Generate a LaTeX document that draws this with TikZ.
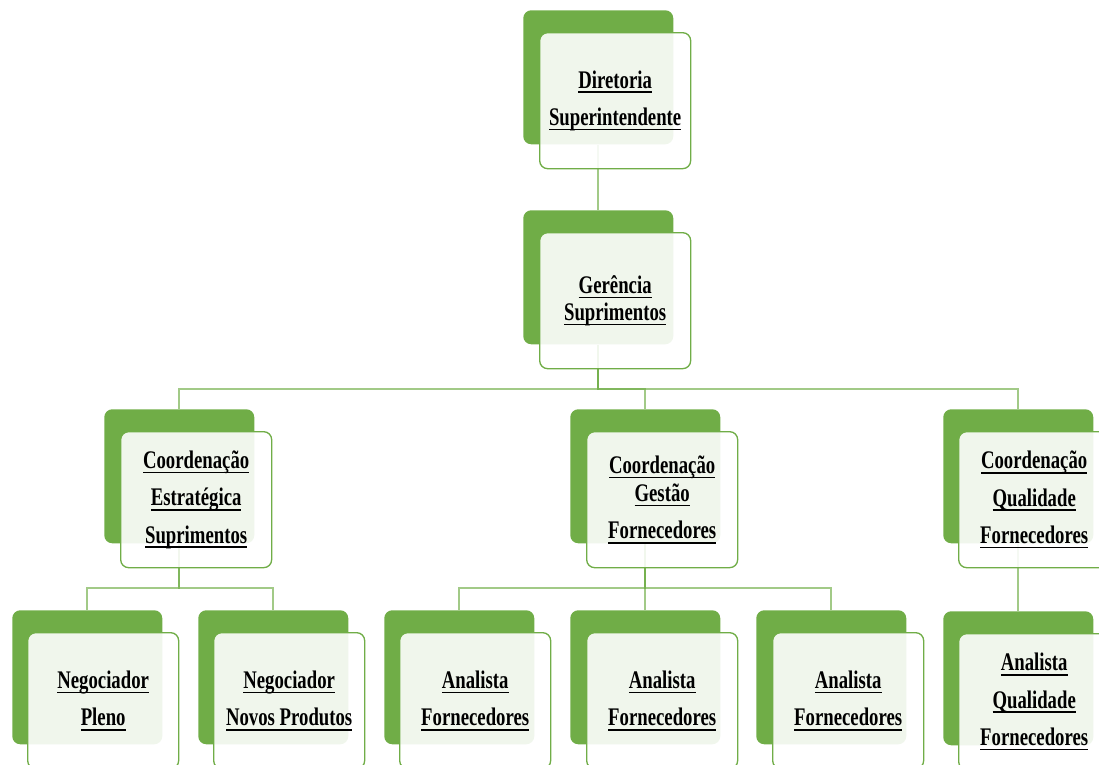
\documentclass[tikz,border=0pt]{standalone}
\usepackage{fontspec}
\newfontfamily\orgfont{Liberation Serif}[FakeStretch=0.74]
\definecolor{leafgreen}{HTML}{70AD47}
\newsavebox\ulinebox
% underlined word with a heavier rule than \underline
\newcommand\ulword[1]{\sbox\ulinebox{#1}\rlap{\rule[-3.6pt]{\wd\ulinebox}{1.2pt}}\usebox\ulinebox}
\begin{document}
\begin{tikzpicture}[x=0.75pt,y=-0.75pt,
  back/.style={fill=leafgreen,rounded corners=6pt,minimum width=112.5pt,
    minimum height=100.5pt,anchor=north west,inner sep=0pt},
  front/.style={draw=leafgreen,line width=1pt,fill=white,fill opacity=0.9,
    text opacity=1,rounded corners=6pt,minimum width=113.25pt,
    minimum height=102pt,anchor=north west,inner sep=0pt,align=center,
    font=\orgfont\bfseries\fontsize{19pt}{28pt}\selectfont},
  link/.style={draw=leafgreen,draw opacity=0.65,line width=1.2pt}]
\useasboundingbox (0,0) rectangle (1099,764);
\clip (0,0) rectangle (1099,764);

% green back plates
\node[back] (dirB) at (523,10) {};
\node[back] (gerB) at (523,210) {};
\node[back] (cesB) at (104,409) {};
\node[back] (cgfB) at (570,409) {};
\node[back] (cqfB) at (943,409) {};
\node[back] (npB)  at (12,610) {};
\node[back] (nnpB) at (198,610) {};
\node[back] (af1B) at (384,610) {};
\node[back] (af2B) at (570,610) {};
\node[back] (af3B) at (756,610) {};
\node[back] (aqfB) at (943,611) {};

% bus levels of the elbow connectors
\coordinate (bus2) at (0,389);
\coordinate (bus3) at (0,588);

\draw[link] (dirB.south) -- (gerB.north);
\foreach \c in {cesB,cgfB,cqfB}
  \draw[link] (gerB.south) -- (gerB.south |- bus2) -| (\c.north);
\foreach \c in {npB,nnpB}
  \draw[link] (cesB.south) -- (cesB.south |- bus3) -| (\c.north);
\foreach \c in {af1B,af2B,af3B}
  \draw[link] (cgfB.south) -- (cgfB.south |- bus3) -| (\c.north);
\draw[link] (cqfB.south) -- (aqfB.north);

% translucent front cards with the titles
\node[front] (dirF) at (539,32) {\ulword{Diretoria}\\\ulword{Superintendente}};
\node[front] (gerF) at (539,232) {\ulword{Gerência}\\[-7.75pt]\ulword{Suprimentos}};
\node[front] (cesF) at (120,431) {\ulword{Coordenação}\\\ulword{Estratégica}\\\ulword{Suprimentos}};
\node[front] (cgfF) at (586,431) {\ulword{Coordenação}\\[-7pt]\ulword{Gestão}\\\ulword{Fornecedores}};
\node[front] (cqfF) at (958,431) {\ulword{Coordenação}\\\ulword{Qualidade}\\\ulword{Fornecedores}};
\node[front] (npF)  at (27,632) {\ulword{Negociador}\\\ulword{Pleno}};
\node[front] (nnpF) at (213,632) {\ulword{Negociador}\\\ulword{Novos Produtos}};
\node[front] (af1F) at (399,632) {\ulword{Analista}\\\ulword{Fornecedores}};
\node[front] (af2F) at (586,632) {\ulword{Analista}\\\ulword{Fornecedores}};
\node[front] (af3F) at (772,632) {\ulword{Analista}\\\ulword{Fornecedores}};
\node[front] (aqfF) at (958,633) {\ulword{Analista}\\\ulword{Qualidade}\\\ulword{Fornecedores}};
\end{tikzpicture}
\end{document}
